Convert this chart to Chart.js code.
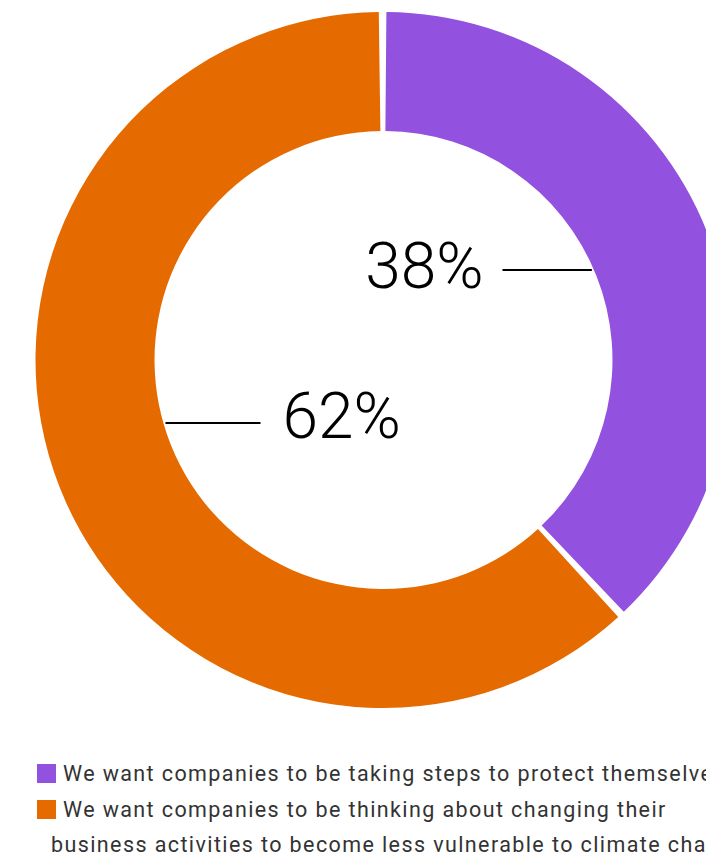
<!DOCTYPE html>
<html>
<head>
<meta charset="utf-8">
<script src="https://cdn.jsdelivr.net/npm/chart.js@4.4.1/dist/chart.umd.min.js"></script>
<style>
  html, body { margin: 0; padding: 0; background: #fff; }
  body { width: 706px; height: 856px; overflow: hidden; position: relative; }
  #wrap { position: absolute; left: 0; top: 0; width: 767px; height: 720px; }
  #legend { position: absolute; left: 0; top: 756px; width: 758px;
            font-family: Roboto, "Liberation Sans", sans-serif; font-size: 21.5px;
            letter-spacing: 1.4px; color: #333; }
  .item { position: relative; padding-left: 51px; line-height: 35.5px; }
  .swatch { display: inline-block; width: 19px; height: 19px; vertical-align: -2px;
            margin-left: -14px; margin-right: 7px; }
</style>
</head>
<body>
<div id="wrap"><canvas id="chart" width="767" height="720"></canvas></div>
<div id="legend"></div>
<script>
// Survey answers and their shares (percent)
const categories = [
  "We want companies to be taking steps to protect themselves",
  "We want companies to be thinking about changing their business activities to become less vulnerable to climate change"
];
const shares = [38, 62];
const colors = ["#9351DF", "#E56B00"];

// Where each value label sits: vertical offset from the centre, and which side
const labelPlacement = [
  { dy: -90, side: "right", lineStart: 119, gap: 19 },
  { dy: 63, side: "left", lineEnd: 123, gap: 22 }
];

const calloutPlugin = {
  id: "callouts",
  afterDatasetsDraw(chart) {
    const ctx = chart.ctx;
    const meta = chart.getDatasetMeta(0);
    const arc = meta.data[0];
    const cx = arc.x, cy = arc.y, rIn = arc.innerRadius;
    ctx.save();
    ctx.strokeStyle = "#000";
    ctx.lineWidth = 2;
    ctx.fillStyle = "#000";
    ctx.font = "300 64px Roboto, 'Liberation Sans', sans-serif";
    ctx.textBaseline = "middle";
    shares.forEach((v, i) => {
      const p = labelPlacement[i];
      const y = cy + p.dy;
      const edge = Math.sqrt(rIn * rIn - p.dy * p.dy);
      const text = v + "%";
      ctx.beginPath();
      if (p.side === "right") {
        const x0 = cx + p.lineStart;
        ctx.moveTo(x0, y);
        ctx.lineTo(cx + edge, y);
        ctx.stroke();
        ctx.textAlign = "right";
        ctx.fillText(text, x0 - p.gap, y + 2);
      } else {
        const x1 = cx - p.lineEnd;
        ctx.moveTo(cx - edge, y);
        ctx.lineTo(x1, y);
        ctx.stroke();
        ctx.textAlign = "left";
        ctx.fillText(text, x1 + p.gap, y - 1);
      }
    });
    ctx.restore();
  }
};

new Chart(document.getElementById("chart"), {
  type: "doughnut",
  data: {
    labels: categories,
    datasets: [{
      data: shares,
      backgroundColor: colors,
      borderWidth: 0,
      hoverOffset: 0
    }]
  },
  options: {
    responsive: false,
    animation: false,
    radius: 346,
    cutout: "65.6%",
    spacing: 4,
    plugins: {
      legend: { display: false },
      tooltip: { enabled: false }
    }
  },
  plugins: [calloutPlugin]
});

// Legend below the ring
const legend = document.getElementById("legend");
categories.forEach((label, i) => {
  const item = document.createElement("div");
  item.className = "item";
  const sw = document.createElement("span");
  sw.className = "swatch";
  sw.style.background = colors[i];
  item.appendChild(sw);
  item.appendChild(document.createTextNode(label));
  legend.appendChild(item);
});
</script>
</body>
</html>
